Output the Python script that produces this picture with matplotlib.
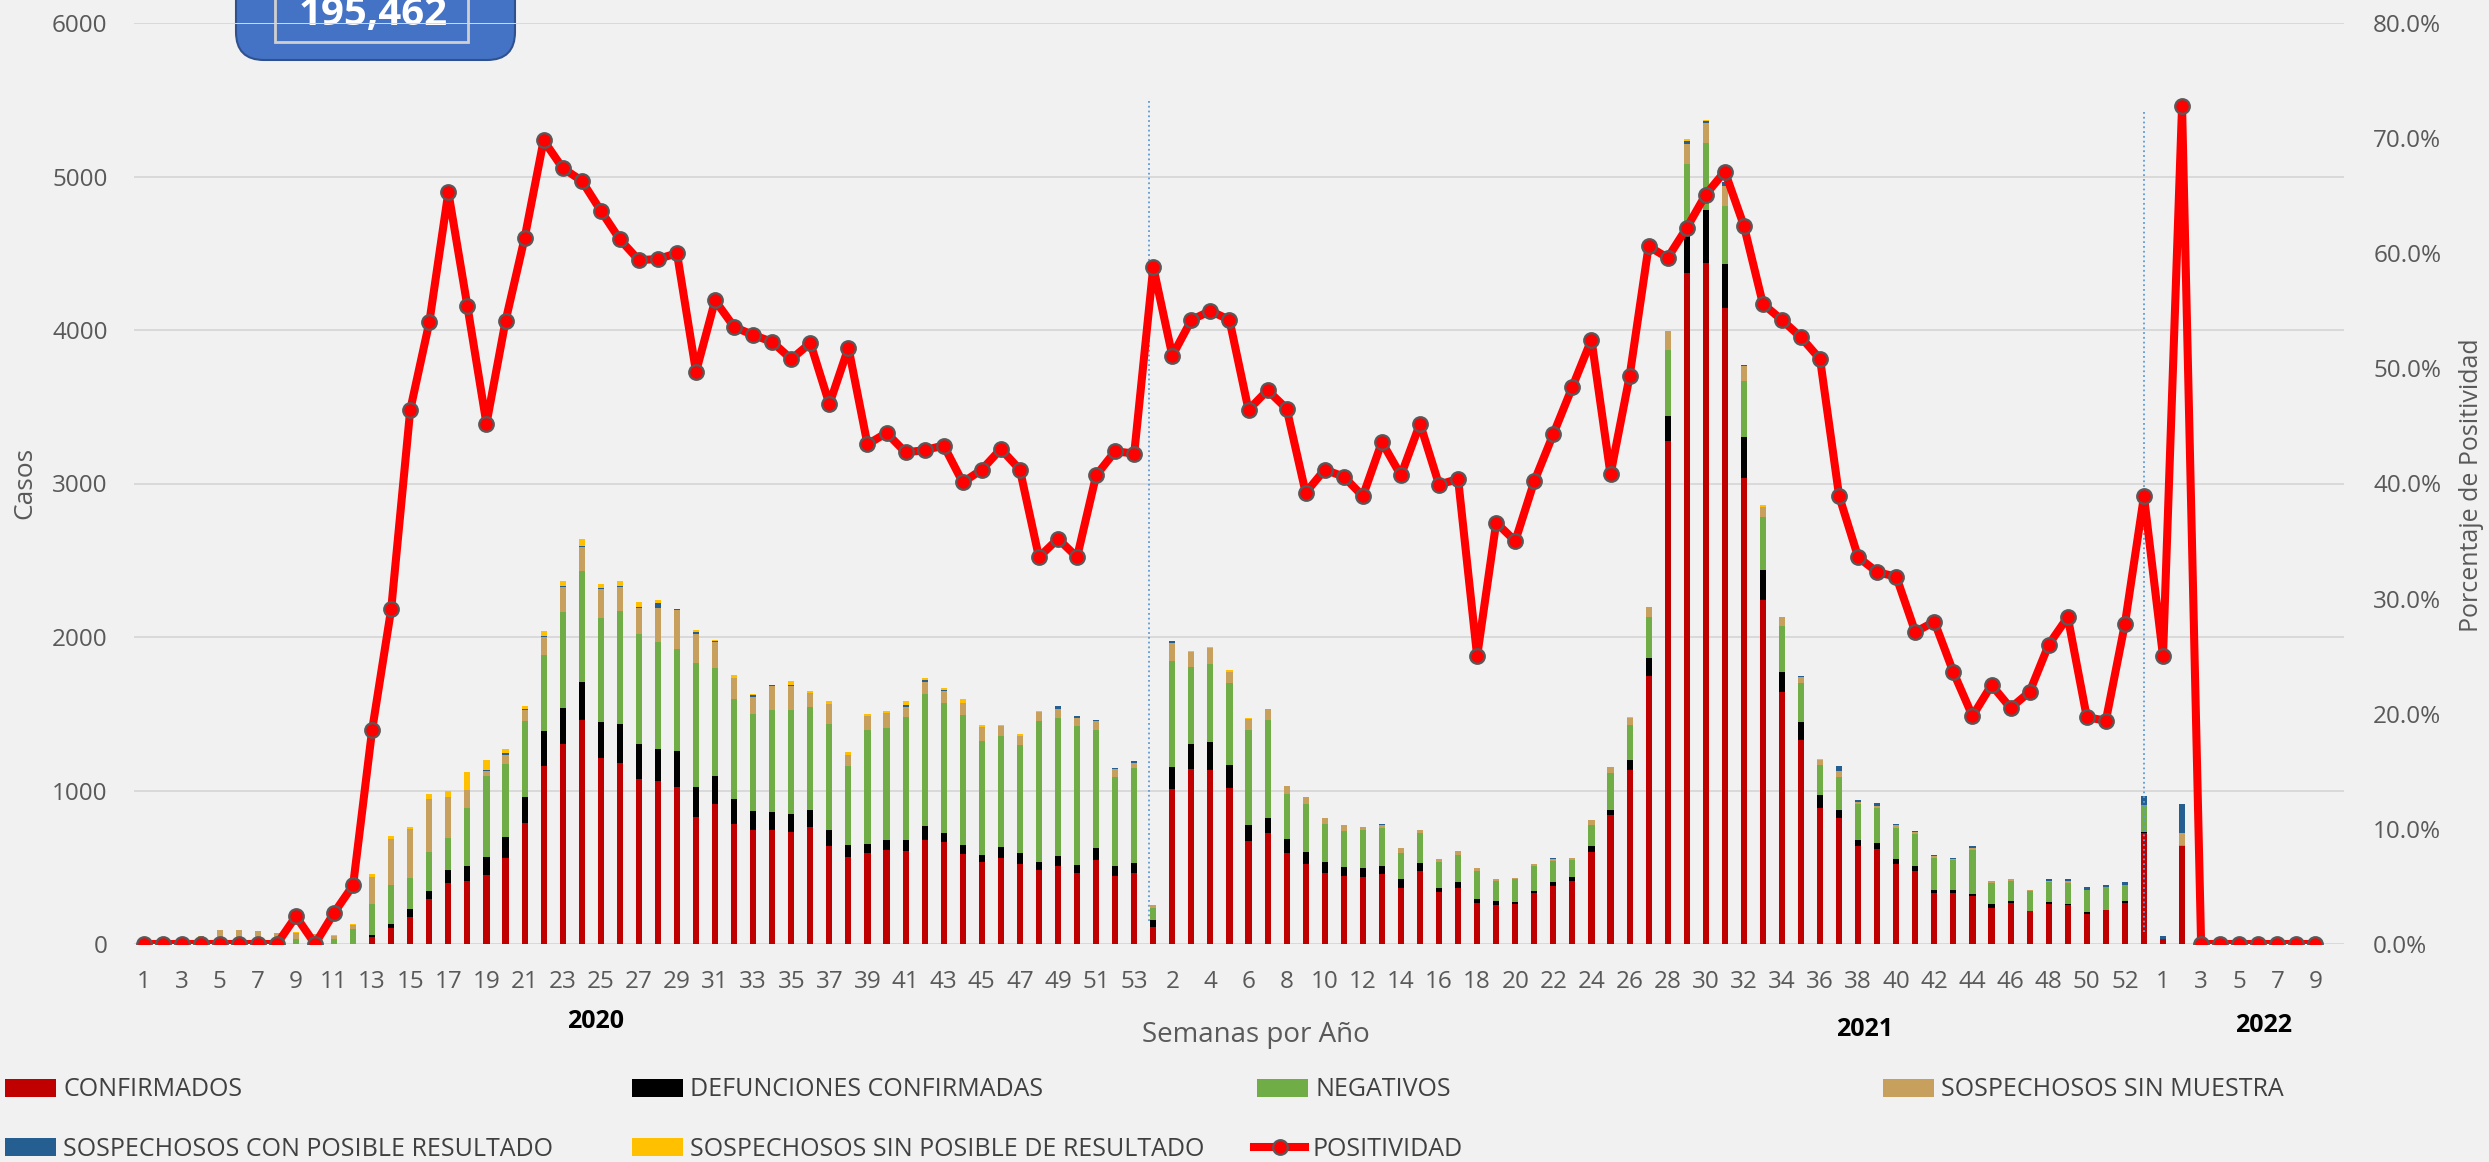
import numpy as np
import matplotlib.pyplot as plt
from matplotlib.patches import FancyBboxPatch, Rectangle

plt.rcParams['font.family'] = ['Open Sans', 'DejaVu Sans']

W, H = 2489, 1162

# week numbers per year (2021 carries one extra unlabeled slot)
semanas_2020 = list(range(1, 54))
semanas_2021 = list(range(1, 54))
semanas_2022 = list(range(1, 10))
semanas = semanas_2020 + semanas_2021 + semanas_2022

confirmados = [
    0, 0, 0, 0, 0, 0, 0, 0, 0, 0, 0, 0, 46, 102, 176, 295, 400, 408, 452, 563, 791, 1160, 1305, 1462, 1210, 1179,
    1072, 1062, 1025, 827, 913, 785, 744, 744, 729, 763, 636, 565, 595, 610, 606, 677, 662, 587, 531, 561, 520,
    479, 509, 464, 550, 441, 464,
    112, 1010, 1141, 1133, 1017, 669, 722, 591, 524, 460, 445, 434, 456, 363, 475, 337, 363, 266, 251, 258, 329,
    381, 411, 598, 838, 1133, 1743, 3276, 4372, 4436, 4144, 3037, 2244, 1642, 1331, 886, 823, 636, 617, 524, 475,
    329, 329, 310, 232, 269, 213, 262, 254, 198, 221, 269, 726,
    30, 636, 0, 0, 0, 0, 0, 0, 0]
defunciones = [
    0, 0, 0, 0, 0, 0, 0, 0, 0, 0, 0, 0, 15, 30, 54, 53, 84, 98, 113, 136, 167, 230, 235, 243, 239, 257,
    232, 208, 232, 194, 179, 157, 120, 116, 116, 108, 105, 82, 56, 67, 71, 93, 64, 60, 52, 71, 71,
    52, 63, 52, 75, 68, 63,
    45, 142, 161, 180, 146, 105, 101, 93, 78, 71, 56, 60, 49, 60, 52, 30, 41, 29, 26, 15, 19,
    23, 23, 42, 37, 68, 123, 165, 239, 344, 284, 265, 194, 127, 116, 83, 48, 41, 41, 33, 34,
    23, 23, 15, 26, 11, 4, 11, 8, 8, 3, 8, 3,
    0, 0, 0, 0, 0, 0, 0, 0, 0]
negativos = [
    0, 0, 0, 0, 0, 0, 0, 0, 33, 20, 30, 96, 197, 252, 198, 249, 209, 378, 528, 474, 495, 495, 621, 723, 675, 732,
    713, 700, 665, 808, 703, 655, 636, 662, 677, 670, 691, 512, 744, 733, 800, 861, 845, 845, 737, 726, 707,
    920, 902, 905, 770, 576, 621,
    75, 692, 504, 508, 535, 621, 639, 296, 307, 254, 232, 250, 250, 172, 195, 164, 176, 180, 134, 153, 161,
    135, 116, 134, 236, 228, 266, 426, 468, 437, 378, 363, 341, 303, 251, 194, 217, 232, 225, 198, 205,
    209, 194, 288, 142, 131, 131, 131, 138, 149, 150, 108, 176,
    0, 11, 0, 0, 0, 0, 0, 0, 0]
sin_muestra = [
    0, 0, 0, 54, 89, 93, 83, 70, 39, 43, 22, 26, 176, 300, 319, 346, 263, 122, 36, 61, 70, 113, 165, 157, 187, 156,
    170, 216, 251, 191, 172, 138, 108, 161, 157, 97, 131, 75, 90, 97, 68, 78, 75, 75, 94, 59, 60,
    60, 59, 53, 56, 56, 30,
    22, 116, 94, 105, 75, 71, 68, 48, 48, 38, 41, 19, 23, 30, 19, 26, 26, 22, 15, 4, 15,
    15, 11, 34, 45, 45, 63, 124, 131, 131, 131, 101, 71, 56, 41, 34, 38, 15, 18, 19, 15,
    15, 11, 15, 11, 12, 7, 7, 11, 0, 0, 0, 0,
    0, 75, 0, 0, 0, 0, 0, 0, 0]
con_posible = [
    0, 0, 0, 0, 0, 0, 0, 0, 0, 0, 0, 0, 0, 0, 0, 0, 0, 0, 7, 8, 6, 7, 7, 5, 9, 7,
    7, 37, 11, 15, 8, 0, 11, 7, 8, 0, 0, 0, 0, 0, 15, 11, 11, 0, 0, 0, 0,
    0, 15, 11, 8, 7, 11,
    0, 11, 0, 0, 0, 0, 0, 0, 0, 0, 0, 0, 4, 0, 0, 0, 0, 0, 0, 0, 0,
    7, 0, 0, 0, 0, 0, 0, 19, 11, 26, 7, 0, 0, 8, 0, 33, 11, 19, 8, 8,
    7, 4, 8, 0, 0, 0, 12, 12, 15, 11, 19, 56,
    22, 191, 0, 0, 0, 0, 0, 0, 0]
sin_posible = [
    0, 0, 0, 0, 0, 0, 0, 0, 4, 0, 4, 6, 20, 20, 15, 37, 41, 113, 63, 31, 22, 32, 35, 51, 26, 37,
    35, 18, 0, 11, 7, 15, 8, 0, 26, 11, 19, 19, 11, 11, 22, 12, 11, 30, 15, 12, 7,
    7, 0, 0, 0, 0, 0,
    0, 0, 7, 8, 11, 8, 0, 0, 0, 0, 0, 0, 0, 0, 0, 0, 0, 0, 0, 0, 0,
    0, 0, 0, 0, 7, 0, 0, 18, 12, 0, 0, 11, 0, 0, 11, 0, 0, 0, 0, 0,
    0, 0, 0, 0, 0, 0, 0, 0, 0, 0, 0, 0,
    0, 0, 0, 0, 0, 0, 0, 0, 0]
positividad = [
    0, 0, 0, 0, 0, 0, 0, 0, 2.4, 0, 2.7, 5.1, 18.6, 29.1, 46.4, 54.0, 65.3, 55.4, 45.2, 54.1, 61.3, 69.8, 67.4,
    66.3, 63.7, 61.2, 59.4, 59.5, 60.0, 49.7, 55.9, 53.6, 52.9, 52.3, 50.8, 52.2, 46.9, 51.8, 43.4, 44.4, 42.7,
    42.9, 43.3, 40.1, 41.2, 43.0, 41.2, 33.6, 35.2, 33.6, 40.7, 42.8, 42.6,
    58.8, 51.1, 54.2, 55.0, 54.2, 46.4, 48.1, 46.5, 39.2, 41.2, 40.6, 38.9, 43.6, 40.7, 45.2, 39.9, 40.4, 25.0,
    36.6, 35.0, 40.2, 44.3, 48.4, 52.5, 40.8, 49.3, 60.6, 59.6, 62.2, 65.1, 67.1, 62.4, 55.6, 54.2, 52.7, 50.8,
    38.9, 33.6, 32.3, 31.9, 27.1, 28.0, 23.6, 19.8, 22.5, 20.5, 21.9, 26.0, 28.4, 19.7, 19.4, 27.8, 38.9,
    25.0, 72.8, 0, 0, 0, 0, 0, 0, 0]

series = [
    (confirmados, '#c00000', 'CONFIRMADOS'),
    (defunciones, '#000000', 'DEFUNCIONES CONFIRMADAS'),
    (negativos, '#70ad47', 'NEGATIVOS'),
    (sin_muestra, '#c6a05c', 'SOSPECHOSOS SIN MUESTRA'),
    (con_posible, '#255e91', 'SOSPECHOSOS CON POSIBLE RESULTADO'),
    (sin_posible, '#ffc000', 'SOSPECHOSOS SIN POSIBLE DE RESULTADO'),
]

gray = '#595959'
fig = plt.figure(figsize=(W / 100, H / 100), dpi=100, facecolor='#f2f1f2')

# decoration layer in pixel coordinates
deco = fig.add_axes([0, 0, 1, 1], zorder=0)
deco.set_xlim(0, W)
deco.set_ylim(H, 0)
deco.axis('off')
deco.add_patch(FancyBboxPatch((236, -60), 279, 120, boxstyle='round,pad=0,rounding_size=28',
                              facecolor='#4472c4', edgecolor='#2f528f', lw=1.5))
deco.add_patch(Rectangle((275, -10), 193, 52, facecolor='none', edgecolor='#d0d0d0', lw=2))
deco.text(373, 25, '195,462', ha='center', va='baseline', fontsize=29, fontweight='bold', color='white')

ax = fig.add_axes([134 / W, 1 - 944 / H, (2344 - 134) / W, (944 - 23) / H], zorder=1)
ax.set_facecolor('none')
x = np.arange(len(semanas))
bottom = np.zeros(len(x))
handles = {}
for vals, color, name in series:
    handles[name] = ax.bar(x, vals, 0.32, bottom=bottom, color=color, label=name, zorder=3)
    bottom += np.array(vals)

ax.set_xlim(-0.5, 115.5)
ax.set_ylim(0, 6000)
ax.set_yticks(range(0, 6001, 1000))
ax.grid(axis='y', color='#d9d9d9', lw=1.4, zorder=0)
for s in ax.spines.values():
    s.set_visible(False)
ax.set_xticks(x)
ax.set_xticklabels([str(w) if i % 2 == 0 else '' for i, w in enumerate(semanas)])
ax.tick_params(axis='both', length=0, labelsize=17.5, colors=gray)
ax.tick_params(axis='y', pad=19)
ax.tick_params(axis='x', pad=19)

# year separators
ax.vlines(52.75, 150, 5510, colors='#5b9bd5', linestyles=':', lw=1.3, zorder=4)
ax.vlines(105, 80, 5430, colors='#5b9bd5', linestyles=':', lw=1.3, zorder=4)

ax2 = ax.twinx()
ax2.set_zorder(2)
line, = ax2.plot(x, positividad, color='#ff0000', lw=5.8, marker='o', ms=10.5,
                 mfc='#ff0000', mec=gray, mew=1.6, label='POSITIVIDAD', zorder=5)
ax2.set_ylim(0, 80)
ax2.set_yticks(range(0, 81, 10))
ax2.yaxis.set_major_formatter(lambda v, p: f'{v:.1f}%')
for s in ax2.spines.values():
    s.set_visible(False)
ax2.tick_params(axis='y', length=0, labelsize=17.5, colors=gray, pad=21)

def ftext(px, py, s, **kw):
    fig.text(px / W, 1 - py / H, s, **kw)

ftext(25, 483, 'Casos', rotation=90, ha='center', va='center', fontsize=19, color=gray)
ftext(2472, 485, 'Porcentaje de Positividad', rotation=90, ha='center', va='center', fontsize=18, color=gray)
ftext(1256, 1035, 'Semanas por Año', ha='center', va='center', fontsize=20, color=gray)
ftext(596, 1022, '2020', ha='center', va='center', fontsize=18, fontweight='bold', color='black')
ftext(1865, 1030, '2021', ha='center', va='center', fontsize=18, fontweight='bold', color='black')
ftext(2264, 1026, '2022', ha='center', va='center', fontsize=18, fontweight='bold', color='black')

legend_pos = [
    ('CONFIRMADOS', 5, 1090), ('DEFUNCIONES CONFIRMADAS', 632, 1090),
    ('NEGATIVOS', 1257, 1090), ('SOSPECHOSOS SIN MUESTRA', 1883, 1090),
    ('SOSPECHOSOS CON POSIBLE RESULTADO', 5, 1149),
    ('SOSPECHOSOS SIN POSIBLE DE RESULTADO', 632, 1149), ('POSITIVIDAD', 1254, 1149),
]
handles['POSITIVIDAD'] = line
for name, px, py in legend_pos:
    fig.legend(handles=[handles[name]], labels=[name], loc='center left',
               bbox_to_anchor=(px / W, 1 - py / H), frameon=False, fontsize=18,
               handlelength=2.05, handleheight=0.7, handletextpad=0.28,
               borderpad=0, borderaxespad=0, labelcolor='#404040')

fig.savefig('out.png', dpi=100, facecolor=fig.get_facecolor())
